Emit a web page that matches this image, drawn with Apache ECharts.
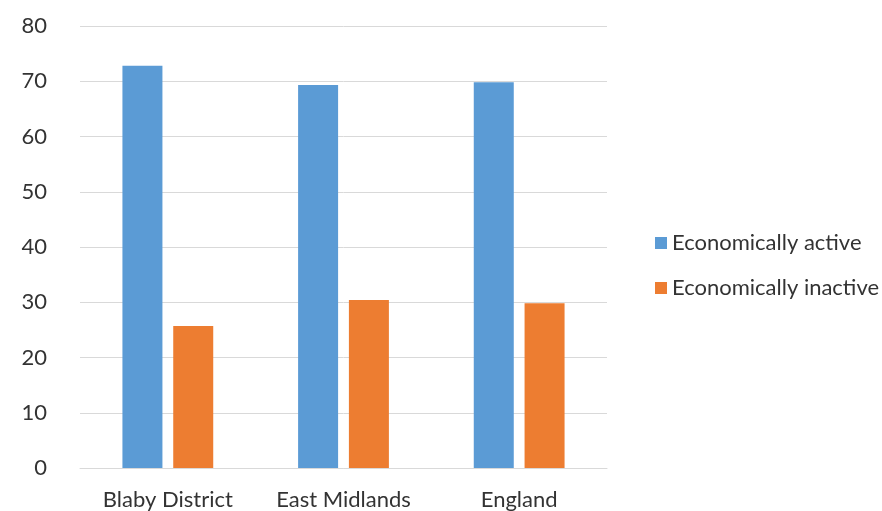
<!DOCTYPE html>
<html><head><meta charset="utf-8">
<script src="https://cdn.jsdelivr.net/npm/echarts@6/dist/echarts.min.js"></script>
<style>html,body{margin:0;padding:0;background:#fff}#c{width:882px;height:511px}</style>
</head><body><div id="c"></div>
<script>
const categories = ['Blaby District', 'East Midlands', 'England'];
const seriesNames = ['Economically active', 'Economically inactive'];
const activeValues = [72.8, 69.3, 69.8];
const inactiveValues = [25.7, 30.4, 29.8];
const colors = ['#5B9BD5', '#ED7D31'];
const FONT = 'Lato';
const chart = echarts.init(document.getElementById('c'));
chart.setOption({
  animation: false,
  textStyle: { fontFamily: FONT },
  grid: { left: 80, right: 275, top: 26, bottom: 43, containLabel: false },
  legend: {
    orient: 'vertical', left: 650, top: 227,
    itemWidth: 12, itemHeight: 12, itemGap: 23, icon: 'rect',
    textStyle: { fontFamily: FONT, fontSize: 22, color: '#333333', padding: [0, 0, 0, 0] },
    data: seriesNames
  },
  xAxis: {
    type: 'category', data: categories,
    axisLine: { show: true, lineStyle: { color: '#D9D9D9' } },
    axisTick: { show: false },
    axisLabel: { fontSize: 22, color: '#333333', margin: 21, fontFamily: FONT }
  },
  yAxis: {
    type: 'value', min: 0, max: 80, interval: 10,
    axisLine: { show: false }, axisTick: { show: false },
    axisLabel: { fontSize: 22, color: '#333333', margin: 33, fontFamily: FONT },
    splitLine: { lineStyle: { color: '#D9D9D9', width: 1 } }
  },
  series: [
    { name: seriesNames[0], type: 'bar', data: activeValues, barWidth: 40, barGap: '27%', itemStyle: { color: colors[0] } },
    { name: seriesNames[1], type: 'bar', data: inactiveValues, barWidth: 40, itemStyle: { color: colors[1] } }
  ]
});
</script></body></html>
